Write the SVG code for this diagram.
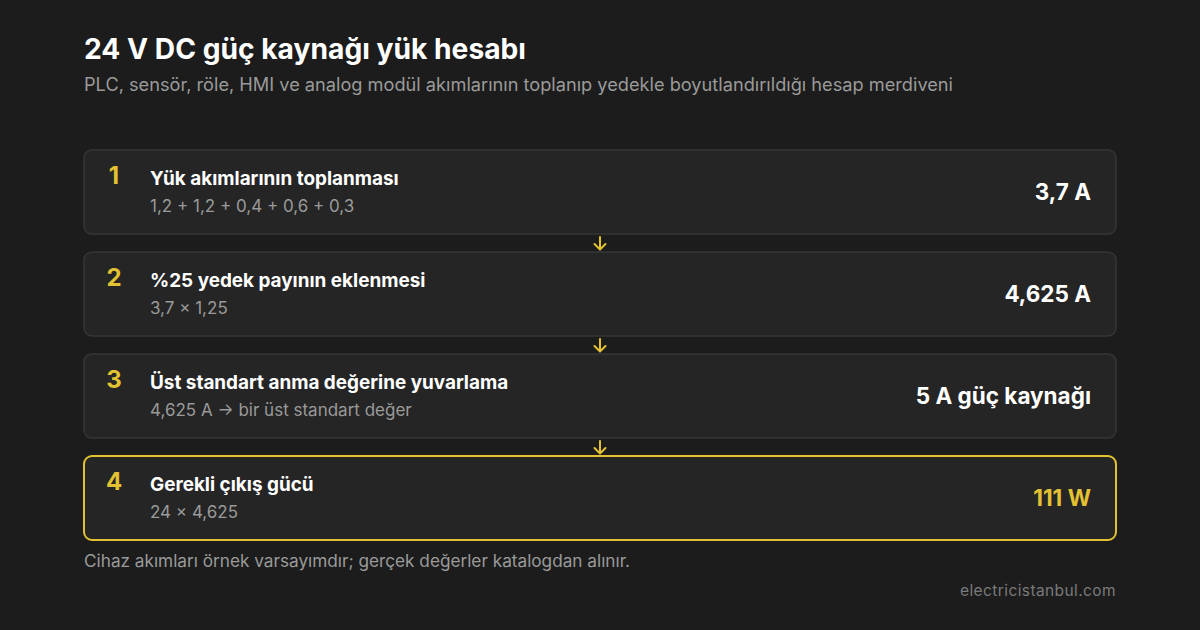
<svg xmlns="http://www.w3.org/2000/svg" width="1200" height="630" viewBox="0 0 1200 630">
<defs>
<style>
text{font-family:Inter,"Noto Sans","Liberation Sans",sans-serif}
.card{fill:#252525;stroke:#363636;stroke-width:1.5}
.hl{fill:#252525;stroke:#e2c232;stroke-width:2}
.num{font-size:24px;font-weight:700;fill:#e2c232}
.tt{font-size:18.9px;font-weight:700;fill:#ffffff}
.st{font-size:17px;fill:#9a9a9a}
.val{font-size:22.5px;font-weight:700;fill:#ffffff;text-anchor:end}
.arr{stroke:#e2c232;stroke-width:2;fill:none;stroke-linecap:round;stroke-linejoin:round}
</style>
</defs>
<rect width="1200" height="630" fill="#1c1c1c"/>
<text x="84" y="59" font-size="28.2" font-weight="700" fill="#ffffff">24 V DC güç kaynağı yük hesabı</text>
<text x="84" y="91" font-size="18" fill="#9a9a9a" textLength="869" lengthAdjust="spacingAndGlyphs">PLC, sensör, röle, HMI ve analog modül akımlarının toplanıp yedekle boyutlandırıldığı hesap merdiveni</text>

<g id="connectors">
<path class="arr" d="M600 237V249M594.5 244L600 249.5L605.5 244"/>
<path class="arr" d="M600 339V351M594.5 346L600 351.5L605.5 346"/>
<path class="arr" d="M600 441V453M594.5 448L600 453.5L605.5 448"/>
</g>

<g id="step1">
<rect class="card" x="84" y="150" width="1032" height="84" rx="8"/>
<text class="num" x="114" y="184" text-anchor="middle">1</text>
<text class="tt" x="150" y="185">Yük akımlarının toplanması</text>
<text class="st" x="150" y="212">1,2 + 1,2 + 0,4 + 0,6 + 0,3</text>
<text class="val" x="1091" y="200">3,7 A</text>
</g>
<g id="step2">
<rect class="card" x="84" y="252" width="1032" height="84" rx="8"/>
<text class="num" x="114" y="286" text-anchor="middle">2</text>
<text class="tt" x="150" y="287">%25 yedek payının eklenmesi</text>
<text class="st" x="150" y="314">3,7 × 1,25</text>
<text class="val" x="1091" y="302">4,625 A</text>
</g>
<g id="step3">
<rect class="card" x="84" y="354" width="1032" height="84" rx="8"/>
<text class="num" x="114" y="388" text-anchor="middle">3</text>
<text class="tt" x="150" y="389">Üst standart anma değerine yuvarlama</text>
<text class="st" x="150" y="416">4,625 A → bir üst standart değer</text>
<text class="val" x="1091" y="404">5 A güç kaynağı</text>
</g>
<g id="step4">
<rect class="hl" x="84" y="456" width="1032" height="84" rx="8"/>
<text class="num" x="114" y="490" text-anchor="middle">4</text>
<text class="tt" x="150" y="491">Gerekli çıkış gücü</text>
<text class="st" x="150" y="518">24 × 4,625</text>
<text class="val" x="1091" y="506" style="fill:#e2c232">111 W</text>
</g>

<text x="84" y="567" font-size="17" fill="#9a9a9a" textLength="546" lengthAdjust="spacingAndGlyphs">Cihaz akımları örnek varsayımdır; gerçek değerler katalogdan alınır.</text>
<text x="1116" y="596" font-size="15.5" fill="#7a7a7a" text-anchor="end" letter-spacing="0.4">electricistanbul.com</text>
</svg>
